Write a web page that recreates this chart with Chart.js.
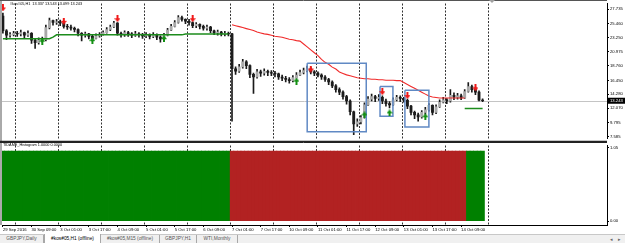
<!DOCTYPE html>
<html><head><meta charset="utf-8">
<script src="https://cdn.jsdelivr.net/npm/chart.js@4/dist/chart.umd.min.js"></script>
<style>
html,body{margin:0;padding:0;background:#fff;width:625px;height:243px;overflow:hidden;font-family:"Liberation Sans",Arial,sans-serif}
#wrap{position:relative;width:625px;height:243px;background:#fff}
canvas{position:absolute;left:0}
#main{top:0}
#ind{top:142px}
.hdr{position:absolute;left:10px;top:2px;font-size:3.8px;line-height:5px;color:#000;white-space:nowrap}
.ilbl{position:absolute;left:3px;top:143px;font-size:3.8px;line-height:4px;color:#000;white-space:nowrap}
.shift{position:absolute;left:489px;top:0;width:0;height:0;border-left:3px solid transparent;border-right:3px solid transparent;border-top:3px solid #a0a0a0}
#tabs{position:absolute;left:0;top:234px;width:625px;height:9px;background:#f0f0f0;border-top:1px solid #c8c8c8;box-sizing:border-box}
.tab{position:absolute;top:0;height:8px;line-height:8px;font-size:4.8px;color:#555;text-align:center;white-space:nowrap;border-right:1px solid #a8a8a8;box-sizing:border-box}
.tab.act{background:#fff;color:#000;border-left:1px solid #a8a8a8;top:-1px;height:9px;line-height:9px}
.nav{position:absolute;top:0;font-size:5px;line-height:8px;color:#666}
</style>
</head><body>
<div id="wrap">
<canvas id="main" width="625" height="142"></canvas>
<canvas id="ind" width="625" height="90"></canvas>
<div class="hdr">#kos#05,H1&nbsp; 13.337 13.543 13.099 13.243</div>
<div class="ilbl">TIDAME_Histogram 1.0000 0.0000</div>
<div class="shift"></div>
<div id="tabs">
  <div class="tab" style="left:0;width:44px">GBPJPY,Daily</div>
  <div class="tab act" style="left:44px;width:57px">#kos#05,H1 (offline)</div>
  <div class="tab" style="left:101px;width:59px">#kos#05,M15 (offline)</div>
  <div class="tab" style="left:160px;width:37px">GBPJPY,H1</div>
  <div class="tab" style="left:197px;width:41px">WTI,Monthly</div>
  <div class="nav" style="left:610px">&#9666;</div>
  <div class="nav" style="left:618px">&#9656;</div>
</div>
</div>
<script>
// ---- data (hour index 0 = 29 Sep 2016 17:00, 2-hour bars) ----
const barHours = [0,2,4,6,8,10,12,14,16,18,20,22,24,26,28,30,32,34,36,38,40,42,44,46,48,50,52,54,56,58,60,62,64,66,68,70,72,74,76,78,80,82,84,86,88,90,92,94,96,98,100,102,104,106,108,110,112,114,116,118,120,122,124,126,128,130,132,134,136,138,140,142,144,146,148,150,152,154,156,158,160,162,164,166,168,170,172,174,176,178,180,182,184,186,188,190,192,194,196,198,200,202,204,206,208,210,212,214,216,218,220,222,224,226,228,230,232,234,236,238,240,242,244,246,248,250,252,254,256,258,260,262,264,266,268];
const openP = [26.6,24.3,23.6,23.7,23.9,23.8,24.0,23.6,23.9,22.8,22.4,22.8,22.9,24.8,25.9,25.6,
 25.7,25.5,25.0,24.9,24.7,24.5,23.9,23.6,23.8,23.4,23.1,23.5,
 23.7,24.0,24.5,24.9,25.5,23.9,23.7,24.0,23.8,23.6,23.8,23.7,
 23.5,23.6,23.4,23.7,23.3,23.0,23.6,24.4,25.0,25.6,26.4,26.1,
 25.8,25.6,25.1,25.3,25.0,24.7,24.9,24.3,24.0,24.1,23.8,23.9,
 23.8,18.3,17.9,18.6,19.4,18.8,17.4,17.0,17.8,17.6,17.9,17.7,
 17.6,17.5,17.0,16.8,16.6,16.4,16.9,17.3,17.7,18.0,18.3,17.8,
 17.6,17.3,17.0,16.6,16.2,15.6,15.0,14.6,13.9,13.2,11.5,9.6,
 9.9,10.6,12.6,13.5,13.9,13.6,13.8,13.2,12.8,12.6,13.4,13.8,
 13.6,13.3,12.4,11.4,11.0,10.7,11.4,11.8,12.5,11.4,12.3,13.0,
 13.4,13.2,14.1,13.8,14.0,13.7,14.7,15.5,15.0,14.6,13.337];
const highP = [27.1,24.5,24.0,24.2,24.2,24.4,24.1,24.3,24.0,23.0,23.2,23.3,25.2,26.3,26.0,26.1,
 26.0,25.8,25.3,25.2,24.9,24.6,24.0,24.1,23.9,23.6,23.8,24.0,
 24.3,24.8,25.2,25.8,25.6,24.1,24.3,24.2,24.0,24.2,24.0,23.9,
 24.0,23.8,24.0,23.8,23.5,23.9,24.7,25.3,25.9,26.7,26.6,26.2,
 26.1,25.7,25.6,25.4,25.2,25.2,25.0,24.4,24.4,24.2,24.2,24.1,
 23.9,18.6,19.0,19.8,19.6,18.9,17.6,18.2,18.1,18.3,18.1,18.0,
 17.9,17.6,17.3,17.1,16.9,17.2,17.7,18.1,18.4,18.7,18.5,18.0,
 17.8,17.5,17.2,16.8,16.4,15.8,15.3,14.8,14.1,13.4,11.6,10.4,
 10.9,12.9,13.9,14.3,14.1,14.2,14.0,13.5,13.1,13.7,14.1,14.0,
 13.8,13.5,12.5,11.6,11.3,11.7,12.2,12.8,12.6,12.6,13.4,13.8,
 13.6,15.0,14.5,14.4,14.3,15.0,16.1,15.7,15.4,14.8,13.543];
const lowP = [23.9,22.9,23.3,23.5,23.4,23.5,23.2,23.4,22.3,21.5,22.2,22.5,22.7,24.6,25.2,25.3,
 25.1,24.7,24.5,24.4,24.1,23.5,22.7,23.3,23.0,22.7,23.0,23.3,
 23.6,23.9,24.3,24.8,23.6,23.3,23.4,23.4,23.2,23.4,23.3,23.1,
 23.2,23.0,23.2,22.9,22.5,22.8,23.5,24.3,24.9,25.5,25.8,25.4,
 25.2,24.8,24.8,24.6,24.4,24.4,24.0,23.7,23.6,23.5,23.5,23.5,
 10.0,17.4,17.7,18.4,18.3,16.9,14.4,16.8,17.1,17.3,17.2,17.2,
 17.0,16.6,16.4,16.2,16.0,16.2,16.8,17.2,17.5,17.8,17.5,17.2,
 17.0,16.6,16.3,15.8,15.3,14.6,14.2,13.5,12.7,11.0,7.9,9.2,
 9.6,10.5,12.5,13.2,13.1,13.3,12.8,12.4,12.1,12.5,13.2,13.1,
 13.0,12.0,11.0,10.4,10.0,10.5,11.1,11.6,11.0,11.2,12.2,12.9,
 12.8,13.0,13.4,13.5,13.4,13.6,14.6,14.6,14.2,13.2,13.099];
const closeP = [24.3,23.6,23.7,23.9,23.8,24.0,23.6,23.9,22.8,22.4,22.8,22.9,24.8,25.9,25.6,25.7,
 25.5,25.0,24.9,24.7,24.5,23.9,23.6,23.8,23.4,23.1,23.5,23.7,
 24.0,24.5,24.9,25.5,23.9,23.7,24.0,23.8,23.6,23.8,23.7,23.5,
 23.6,23.4,23.7,23.3,23.0,23.6,24.4,25.0,25.6,26.4,26.1,25.8,
 25.6,25.1,25.3,25.0,24.7,24.9,24.3,24.0,24.1,23.8,23.9,23.8,
 18.3,17.9,18.6,19.4,18.8,17.4,17.0,17.8,17.6,17.9,17.7,17.6,
 17.5,17.0,16.8,16.6,16.4,16.9,17.3,17.7,18.0,18.3,17.8,17.6,
 17.3,17.0,16.6,16.2,15.6,15.0,14.6,13.9,13.2,11.5,9.6,9.9,
 10.6,12.6,13.5,13.9,13.6,13.8,13.2,12.8,12.6,13.4,13.8,13.6,
 13.3,12.4,11.4,11.0,10.7,11.4,11.8,12.5,11.4,12.3,13.0,13.4,
 13.2,14.1,13.8,14.0,13.7,14.7,15.5,15.0,14.6,13.337,13.243];
const redLine = [null,null,null,null,null,null,null,null,null,null,null,null,null,null,null,null,
 null,null,null,null,null,null,null,null,null,null,null,null,
 null,null,null,null,null,null,null,null,null,null,null,null,
 null,null,null,null,null,null,null,null,null,null,null,null,
 null,null,null,null,null,null,null,null,null,null,null,null,
 25.25,25.10,24.95,24.80,24.64,24.49,24.34,24.11,23.96,23.81,23.73,23.58,
 23.42,23.35,23.27,23.12,22.97,22.89,22.74,22.66,22.21,21.75,21.29,20.83,
 20.38,19.77,19.31,19.01,18.55,18.25,17.79,17.56,17.33,17.18,17.03,16.88,
 16.80,16.72,16.72,16.65,16.65,16.57,16.57,16.49,16.49,16.49,16.42,16.42,
 16.11,15.81,15.50,15.20,14.90,14.59,14.29,13.98,13.83,13.75,13.68,13.68,
 13.68,13.68,13.68,13.68,13.68,13.68,null,null,null,null,null];
const greenLine = [23.05,23.05,23.05,23.05,23.05,23.05,23.05,23.05,23.05,23.05,23.05,23.05,23.05,23.05,23.3,23.65,
 23.65,23.65,23.65,23.65,23.65,23.65,23.65,23.65,23.65,23.65,23.65,23.65,
 23.65,23.65,23.65,23.65,23.65,23.65,23.65,23.65,23.65,23.65,23.65,23.65,
 23.65,23.65,23.65,23.65,23.65,23.65,23.65,23.65,23.65,23.65,23.65,23.8,
 23.8,23.8,23.8,23.8,23.8,23.8,23.8,23.8,23.8,23.8,23.8,23.8,
 null,null,null,null,null,null,null,null,null,null,null,null,
 null,null,null,null,null,null,null,null,null,null,null,null,
 null,null,null,null,null,null,null,null,null,null,null,null,
 null,null,null,null,null,null,null,null,null,null,null,null,
 null,null,null,null,null,null,null,null,null,null,null,null,
 null,null,null,null,null,12.0,12.0,12.0,12.0,12.0,12.0];
const histTrend = [1,1,1,1,1,1,1,1,1,1,1,1,1,1,1,1,
 1,1,1,1,1,1,1,1,1,1,1,1,
 1,1,1,1,1,1,1,1,1,1,1,1,
 1,1,1,1,1,1,1,1,1,1,1,1,
 1,1,1,1,1,1,1,1,1,1,1,1,
 -1,-1,-1,-1,-1,-1,-1,-1,-1,-1,-1,-1,
 -1,-1,-1,-1,-1,-1,-1,-1,-1,-1,-1,-1,
 -1,-1,-1,-1,-1,-1,-1,-1,-1,-1,-1,-1,
 -1,-1,-1,-1,-1,-1,-1,-1,-1,-1,-1,-1,
 -1,-1,-1,-1,-1,-1,-1,-1,-1,-1,-1,-1,
 -1,-1,-1,-1,-1,-1,1,1,1,1,1];
const sellHours = [0,34,64,106,172,212,226,264];
const sellPrices = [27.9,25.8,26.2,26.2,18.25,14.67,14.06,15.28];
const buyHours = [22,50,90,164,202,216,236];
const buyPrices = [22.66,22.74,23.04,16.34,11.01,11.32,10.71];
const rectStartHours = [170,210.7,224.6];
const rectEndHours = [203,217.9,238];
const rectTopPrices = [19.16,15.5,14.9];
const rectBottomPrices = [8.35,10.78,9.11];
const priceTicks = [27.735,25.460,23.250,20.975,18.760,16.450,14.280,12.070,9.795,7.585];
const histTicks = [1.05,0];
const daySeparators = [7,31,55,79,103,127,151,175,199,223,247,271];
const xTickHours = [0,16,32,48,64,80,96,112,128,144,160,176,192,208,224,240,256];
const xTickLabels = ['29 Sep 2016','30 Sep 09:00','3 Oct 01:00','3 Oct 17:00','4 Oct 09:00','5 Oct 01:00','5 Oct 17:00','6 Oct 09:00','7 Oct 01:00','7 Oct 17:00','10 Oct 09:00','11 Oct 01:00','11 Oct 17:00','12 Oct 09:00','13 Oct 01:00','13 Oct 17:00','14 Oct 09:00'];

// ---- rendering ----
Chart.defaults.font.family = '"Liberation Sans", Arial, sans-serif';
const X_MIN = -0.5, X_MAX = 337.5;
const AX_FONT = {size:4.2};

function makeArrow(color, down){
  const c=document.createElement('canvas'); c.width=6; c.height=7;
  const g=c.getContext('2d'); g.fillStyle=color;
  if(down){ g.fillRect(2,0,2,4); g.beginPath(); g.moveTo(0,3); g.lineTo(6,3); g.lineTo(3,7); g.closePath(); g.fill(); }
  else { g.fillRect(2,3,2,4); g.beginPath(); g.moveTo(0,4); g.lineTo(6,4); g.lineTo(3,0); g.closePath(); g.fill(); }
  return c;
}
const sellImg = makeArrow('#f01818', true);
const buyImg = makeArrow('#139013', false);

const sepPlugin = {
  id:'sep',
  beforeDatasetsDraw(chart){
    const {ctx, chartArea:a, scales:{x}} = chart;
    ctx.save(); ctx.strokeStyle='#333'; ctx.lineWidth=1; ctx.setLineDash([2,1.5]);
    daySeparators.forEach(h=>{
      const px = Math.round(x.getPixelForValue(h)) + 0.5;
      ctx.beginPath(); ctx.moveTo(px,a.top); ctx.lineTo(px,a.bottom); ctx.stroke();
    });
    ctx.restore();
  }
};
const priceLinePlugin = {
  id:'priceLine',
  beforeDatasetsDraw(chart){
    const {ctx, chartArea:a, scales:{y}} = chart;
    const py = Math.round(y.getPixelForValue(closeP[closeP.length-1])) + 0.5;
    ctx.save(); ctx.strokeStyle='#c4c4c4'; ctx.lineWidth=1;
    ctx.beginPath(); ctx.moveTo(a.left,py); ctx.lineTo(a.right,py); ctx.stroke(); ctx.restore();
  },
  afterDraw(chart){
    const {ctx, chartArea:a, scales:{y}} = chart;
    const last = closeP[closeP.length-1];
    const py = y.getPixelForValue(last);
    ctx.save(); ctx.fillStyle='#000'; ctx.fillRect(a.right+1, py-3, 17, 6);
    ctx.fillStyle='#fff'; ctx.font='4.2px "Liberation Sans", Arial, sans-serif';
    ctx.textBaseline='middle'; ctx.fillText(last.toFixed(3), a.right+3, py);
    ctx.restore();
  }
};
const frameMain = {
  id:'frameMain',
  afterDraw(chart){
    const {ctx, chartArea:a} = chart;
    ctx.save(); ctx.strokeStyle='#555'; ctx.lineWidth=1;
    ctx.beginPath(); ctx.moveTo(1,0); ctx.lineTo(1,142); ctx.moveTo(0,0.5); ctx.lineTo(a.right,0.5); ctx.stroke();
    ctx.strokeStyle='#222'; ctx.lineWidth=1.2; ctx.beginPath(); ctx.moveTo(0,141.4); ctx.lineTo(a.right,141.4); ctx.stroke();
    ctx.restore();
  }
};
const frameInd = {
  id:'frameInd',
  afterDraw(chart){
    const {ctx, chartArea:a} = chart;
    ctx.save(); ctx.strokeStyle='#555'; ctx.lineWidth=1;
    ctx.beginPath(); ctx.moveTo(1,0); ctx.lineTo(1,a.bottom); ctx.stroke();
    ctx.strokeStyle='#222'; ctx.beginPath(); ctx.moveTo(0,0.5); ctx.lineTo(a.right,0.5); ctx.stroke();
    ctx.restore();
  }
};

const rectDatasets = rectStartHours.map((s,i)=>({
  type:'line', order:2,
  data:[{x:s,y:rectTopPrices[i]},{x:rectEndHours[i],y:rectTopPrices[i]},{x:rectEndHours[i],y:rectBottomPrices[i]},{x:s,y:rectBottomPrices[i]},{x:s,y:rectTopPrices[i]}],
  borderColor:'#6089c4', borderWidth:1.5, pointRadius:0, tension:0, fill:false
}));

new Chart(document.getElementById('main'), {
  type:'bar',
  data:{ datasets:[
    ...rectDatasets,
    {type:'line', order:3, data:barHours.map((h,i)=>({x:h,y:redLine[i]})), borderColor:'#f02a2a', borderWidth:1.1, pointRadius:0, spanGaps:false, fill:false},
    {type:'line', order:3, data:barHours.map((h,i)=>({x:h,y:greenLine[i]})), borderColor:'#1c8c1c', borderWidth:1.5, pointRadius:0, spanGaps:false, fill:false},
    {order:4, grouped:false, barThickness:2.2, data:barHours.map((h,i)=>({x:h,y:[openP[i],closeP[i]]})),
      backgroundColor:barHours.map((h,i)=> closeP[i]>=openP[i] ? '#a9a9a9' : '#1c1c1c')},
    {order:5, grouped:false, barThickness:1, data:barHours.map((h,i)=>({x:h,y:[lowP[i],highP[i]]})), backgroundColor:'#1a1a1a'},
    {type:'scatter', order:1, data:sellHours.map((h,i)=>({x:h,y:sellPrices[i]})), pointStyle:sellImg, pointRadius:3, showLine:false},
    {type:'scatter', order:1, data:buyHours.map((h,i)=>({x:h,y:buyPrices[i]})), pointStyle:buyImg, pointRadius:3, showLine:false}
  ]},
  options:{
    responsive:false, animation:false, devicePixelRatio:1,
    layout:{padding:{left:2,top:1,right:0,bottom:1}, autoPadding:false},
    plugins:{legend:{display:false}, tooltip:{enabled:false}},
    scales:{
      x:{type:'linear', min:X_MIN, max:X_MAX, display:false, offset:false, grid:{offset:false}},
      y:{type:'linear', position:'right', min:7.281, max:28.603,
        afterBuildTicks:s=>{ s.ticks = priceTicks.map(v=>({value:v})); },
        afterFit:s=>{ s.width = 18; },
        ticks:{font:AX_FONT, color:'#000', padding:1, autoSkip:false, callback:v=>Number(v).toFixed(3)},
        grid:{drawOnChartArea:false, tickLength:2, tickColor:'#000'},
        border:{color:'#000', width:1}
      }
    }
  },
  plugins:[sepPlugin, priceLinePlugin, frameMain]
});

new Chart(document.getElementById('ind'), {
  type:'bar',
  data:{ datasets:[
    {grouped:false, barThickness:3.75, data:barHours.map((h,i)=>({x:h,y:Math.abs(histTrend[i])})),
     backgroundColor:histTrend.map(t=> t>0 ? '#008000' : '#b22222')}
  ]},
  options:{
    responsive:false, animation:false, devicePixelRatio:1,
    layout:{padding:{left:2,top:1,right:0,bottom:0}, autoPadding:false},
    plugins:{legend:{display:false}, tooltip:{enabled:false}},
    scales:{
      x:{type:'linear', min:X_MIN, max:X_MAX, offset:false,
        afterBuildTicks:s=>{ s.ticks = xTickHours.map(v=>({value:v})); },
        afterFit:s=>{ s.height = 7; },
        ticks:{font:AX_FONT, color:'#000', padding:0, align:'start', maxRotation:0, minRotation:0, autoSkip:false, callback:(v,i)=>xTickLabels[i]},
        grid:{drawOnChartArea:false, tickLength:2, tickColor:'#000', offset:false},
        border:{color:'#000', width:1}
      },
      y:{type:'linear', position:'right', min:-0.0553, max:1.0776,
        afterBuildTicks:s=>{ s.ticks = histTicks.map(v=>({value:v})); },
        afterFit:s=>{ s.width = 18; },
        ticks:{font:AX_FONT, color:'#000', padding:1, autoSkip:false, callback:v=>Number(v).toFixed(2)},
        grid:{drawOnChartArea:false, tickLength:2, tickColor:'#000'},
        border:{color:'#000', width:1}
      }
    }
  },
  plugins:[sepPlugin, frameInd]
});
</script>
</body></html>
